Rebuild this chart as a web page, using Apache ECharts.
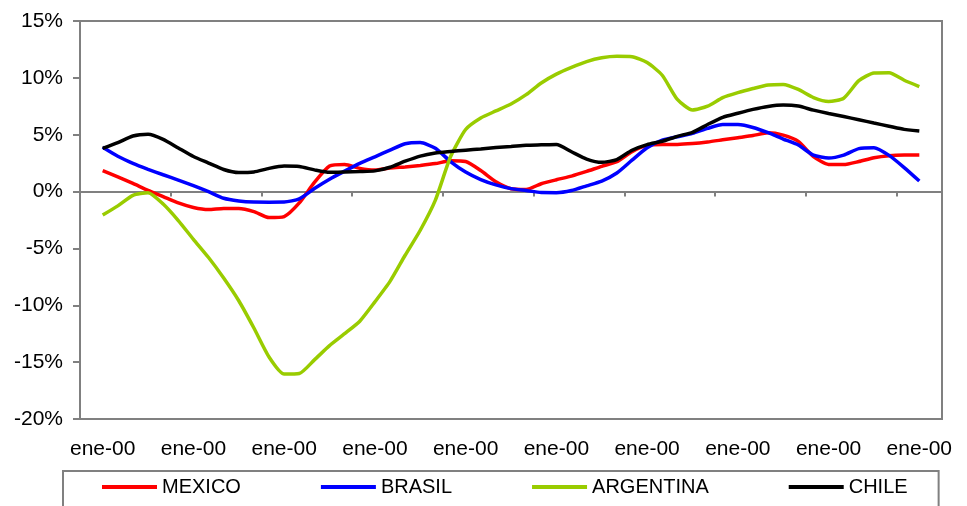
<!DOCTYPE html>
<html>
<head>
<meta charset="utf-8">
<script src="https://cdn.jsdelivr.net/npm/echarts@6/dist/echarts.min.js"></script>
<style>
  html, body { margin: 0; padding: 0; background: #ffffff; }
  #chart { width: 967px; height: 506px; }
</style>
</head>
<body>
<div id="chart"></div>
<script>
// Period labels along the horizontal axis (one per period, every other one shown)
const periods = [
  'ene-00', 'ene-00', 'ene-00', 'ene-00', 'ene-00', 'ene-00', 'ene-00',
  'ene-00', 'ene-00', 'ene-00', 'ene-00', 'ene-00', 'ene-00', 'ene-00',
  'ene-00', 'ene-00', 'ene-00', 'ene-00', 'ene-00'
];

// Three observations per period, in percent
const mexico = [
  1.85, 1.3, 0.72, 0.11, -0.44, -1.0, -1.4, -1.58, -1.48, -1.48,
  -1.76, -2.29, -2.2, -1.0, 0.8, 2.24, 2.38, 2.04, 1.89, 2.07,
  2.17, 2.3, 2.46, 2.7, 2.64, 1.85, 0.86, 0.25, 0.18, 0.69,
  1.04, 1.36, 1.77, 2.22, 2.62, 3.51, 4.06, 4.15, 4.15, 4.22,
  4.36, 4.55, 4.74, 4.93, 5.17, 4.96, 4.41, 3.07, 2.39, 2.37,
  2.64, 2.98, 3.16, 3.21, 3.21
];
const brasil = [
  3.89, 3.1, 2.48, 1.96, 1.48, 1.01, 0.52, -0.01, -0.59, -0.82,
  -0.92, -0.93, -0.92, -0.64, 0.27, 1.09, 1.8, 2.48, 3.06, 3.64,
  4.2, 4.31, 3.81, 2.64, 1.72, 1.06, 0.59, 0.26, 0.09, -0.09,
  -0.1, 0.09, 0.5, 0.92, 1.63, 2.76, 3.85, 4.52, 4.82, 5.12,
  5.56, 5.9, 5.89, 5.64, 5.18, 4.62, 4.09, 3.2, 2.95, 3.21,
  3.78, 3.86, 3.18, 2.11, 0.93
];
const argentina = [
  -2.07, -1.26, -0.33, -0.1, -1.1, -2.55, -4.2, -5.8, -7.6, -9.6,
  -12.0, -14.55, -16.05, -16.0, -14.8, -13.55, -12.5, -11.4, -9.7, -7.9,
  -5.6, -3.4, -0.75, 3.06, 5.46, 6.47, 7.09, 7.7, 8.52, 9.55,
  10.33, 10.92, 11.43, 11.76, 11.89, 11.85, 11.35, 10.23, 8.1, 7.17,
  7.51, 8.26, 8.7, 9.06, 9.37, 9.42, 8.98, 8.27, 7.92, 8.21,
  9.75, 10.43, 10.45, 9.79, 9.23
];
const chile = [
  3.8, 4.3, 4.89, 5.04, 4.59, 3.83, 3.08, 2.51, 1.94, 1.67,
  1.73, 2.04, 2.24, 2.2, 1.91, 1.69, 1.72, 1.76, 1.82, 2.14,
  2.67, 3.12, 3.39, 3.52, 3.64, 3.74, 3.87, 3.96, 4.08, 4.11,
  4.14, 3.5, 2.86, 2.57, 2.82, 3.63, 4.13, 4.42, 4.86, 5.21,
  5.9, 6.53, 6.89, 7.23, 7.49, 7.61, 7.52, 7.16, 6.86, 6.6,
  6.32, 6.03, 5.75, 5.47, 5.33
];

const seriesNames = ['MEXICO', 'BRASIL', 'ARGENTINA', 'CHILE'];
const seriesColors = ['#ff0000', '#0000ff', '#99cc00', '#000000'];
const seriesValues = [mexico, brasil, argentina, chile];

const yMin = -20, yMax = 15, yStep = 5;
const samplesPerPeriod = 3;

const FONT = 'Liberation Sans, Arial, sans-serif';
const GRAY = '#808080';

// Observation k sits at the centre of its period band: period index + 0.5
function toPoints(values) {
  return values.map((v, k) => [k / samplesPerPeriod + 0.5, v]);
}

const chart = echarts.init(document.getElementById('chart'), null, { renderer: 'canvas' });

chart.setOption({
  animation: false,
  backgroundColor: '#ffffff',
  grid: {
    left: 80, right: 25, top: 21, bottom: 87,
    show: true, borderColor: GRAY, borderWidth: 2, backgroundColor: 'transparent'
  },
  xAxis: [
    {
      // zero line with period boundary ticks; carries the series
      type: 'value',
      min: 0, max: periods.length, interval: 2,
      position: 'bottom',
      axisLine: { show: true, onZero: true, lineStyle: { color: GRAY, width: 2 } },
      axisTick: { show: true, inside: false, length: 5, lineStyle: { color: GRAY, width: 2 } },
      axisLabel: { show: false },
      splitLine: { show: false }
    },
    {
      // period labels along the bottom edge
      type: 'category',
      data: periods,
      boundaryGap: true,
      position: 'bottom',
      axisLine: { show: false, onZero: false },
      axisTick: { show: false },
      axisLabel: {
        show: true, interval: 1, margin: 20,
        color: '#000000', fontSize: 21, fontFamily: FONT
      },
      splitLine: { show: false }
    }
  ],
  yAxis: {
    type: 'value',
    min: yMin, max: yMax, interval: yStep,
    axisLine: { show: true, onZero: false, lineStyle: { color: GRAY, width: 2 } },
    axisTick: { show: true, inside: false, length: 7, lineStyle: { color: GRAY, width: 2 } },
    axisLabel: {
      margin: 17, color: '#000000', fontSize: 21, fontFamily: FONT,
      formatter: v => v + '%'
    },
    splitLine: { show: false }
  },
  legend: {
    data: seriesNames,
    left: 63, top: 471,
    orient: 'horizontal',
    padding: [6, 31, 20, 39],
    itemGap: 80,
    icon: 'rect',
    itemWidth: 55, itemHeight: 4,
    borderColor: GRAY, borderWidth: 2,
    backgroundColor: '#ffffff',
    textStyle: { color: '#000000', fontSize: 20, fontFamily: FONT }
  },
  series: seriesNames.map((name, s) => ({
    name,
    type: 'line',
    xAxisIndex: 0,
    data: toPoints(seriesValues[s]),
    symbol: 'none',
    smooth: 0.2,
    lineStyle: { color: seriesColors[s], width: 3.5 },
    itemStyle: { color: seriesColors[s] },
    z: 3 + s
  }))
});
</script>
</body>
</html>
